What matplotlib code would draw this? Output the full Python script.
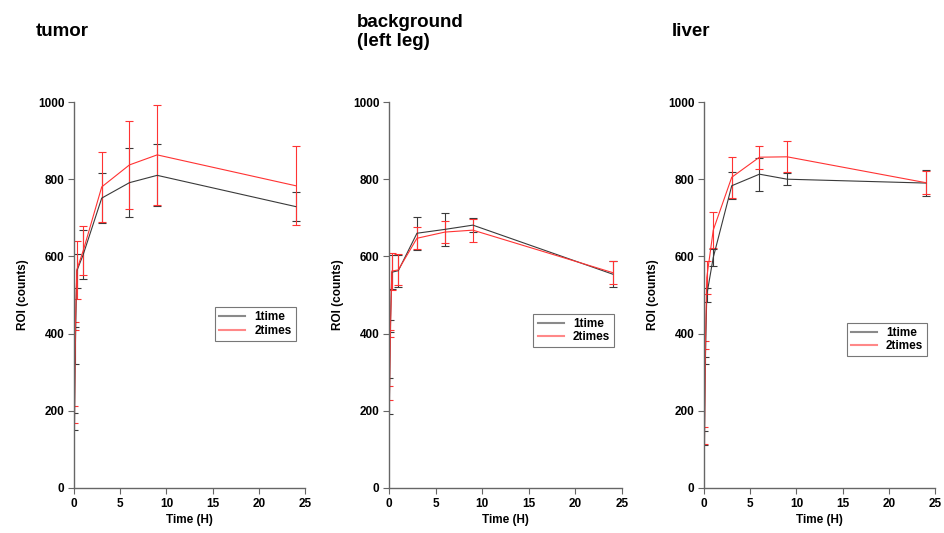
import matplotlib
matplotlib.use("Agg")
import matplotlib.pyplot as plt
from matplotlib.lines import Line2D

plt.rcParams["font.family"] = ["Liberation Sans", "DejaVu Sans"]
plt.rcParams["font.weight"] = "bold"

# sampling times (h)
times = [0.05, 0.15, 0.3, 1, 3, 6, 9, 24]

panel_titles = ["tumor", "background\n(left leg)", "liver"]
series_names = ["1time", "2times"]

# tumor
tumor_1 = [172, 370, 562, 605, 751, 791, 810, 729]
tumor_1_err = [22, 48, 43, 63, 65, 90, 80, 37]
tumor_2 = [190, 420, 565, 615, 780, 837, 863, 783]
tumor_2_err = [22, 10, 75, 63, 90, 115, 130, 102]

# background (left leg)
bg_1 = [238, 420, 559, 563, 660, 670, 681, 554]
bg_1_err = [47, 15, 44, 41, 43, 42, 18, 33]
bg_2 = [246, 400, 562, 565, 647, 663, 668, 558]
bg_2_err = [18, 10, 48, 40, 28, 28, 30, 29]

# liver
liver_1 = [130, 330, 500, 597, 783, 813, 800, 790]
liver_1_err = [18, 10, 18, 22, 35, 43, 16, 33]
liver_2 = [135, 370, 545, 668, 805, 857, 858, 791]
liver_2_err = [22, 10, 42, 47, 53, 30, 40, 30]

panels = [
    (tumor_1, tumor_1_err, tumor_2, tumor_2_err),
    (bg_1, bg_1_err, bg_2, bg_2_err),
    (liver_1, liver_1_err, liver_2, liver_2_err),
]

axes_rects = [
    [74 / 945, 45 / 533, 231 / 945, 386 / 533],
    [389 / 945, 45 / 533, 233 / 945, 386 / 533],
    [704 / 945, 45 / 533, 231 / 945, 386 / 533],
]
title_pos = [(36, 32), (357, 32), (672, 32)]
legend_anchor = [(0.61, 0.468), (0.62, 0.452), (0.617, 0.428)]

colors = ["#3a3a3a", "#ff3333"]
legend_colors = ["#8a8a8a", "#ff8888"]

fig = plt.figure(figsize=(9.45, 5.33), dpi=100)

for k, (y1, e1, y2, e2) in enumerate(panels):
    ax = fig.add_axes(axes_rects[k])
    for y, e, c in [(y1, e1, colors[0]), (y2, e2, colors[1])]:
        ax.errorbar(times, y, yerr=e, color=c, lw=0.8, elinewidth=0.8,
                    capsize=3, capthick=0.8)
    ax.set_xlim(0, 25)
    ax.set_ylim(0, 1000)
    ax.set_xticks([0, 5, 10, 15, 20, 25])
    ax.set_yticks([0, 200, 400, 600, 800, 1000])
    for s in ["top", "right"]:
        ax.spines[s].set_visible(False)
    for s in ["left", "bottom"]:
        ax.spines[s].set_color("#666666")
        ax.spines[s].set_linewidth(1.0)
    ax.tick_params(direction="out", length=4, width=0.8, color="#666666",
                   labelsize=8.5, pad=3)
    ax.set_xlabel("Time (H)", fontsize=8.5, fontweight="bold", labelpad=3)
    ax.set_ylabel("ROI (counts)", fontsize=8.5, fontweight="bold", labelpad=6)
    handles = [Line2D([], [], color=legend_colors[0], lw=1.5),
               Line2D([], [], color=legend_colors[1], lw=1.5)]
    leg = ax.legend(handles, series_names, loc="upper left",
                    bbox_to_anchor=legend_anchor[k],
                    fontsize=8.5, frameon=True, fancybox=False,
                    handlelength=2.2, borderpad=0.35, labelspacing=0.1,
                    handletextpad=0.8, borderaxespad=0)
    leg.get_frame().set_edgecolor("#555555")
    leg.get_frame().set_linewidth(0.8)
    tx, ty = title_pos[k]
    fig.text(tx / 945, 1 - ty / 533, panel_titles[k], fontsize=13.5,
             fontweight="bold", ha="left", va="center", linespacing=1.2)

fig.savefig("out.png", dpi=100)
